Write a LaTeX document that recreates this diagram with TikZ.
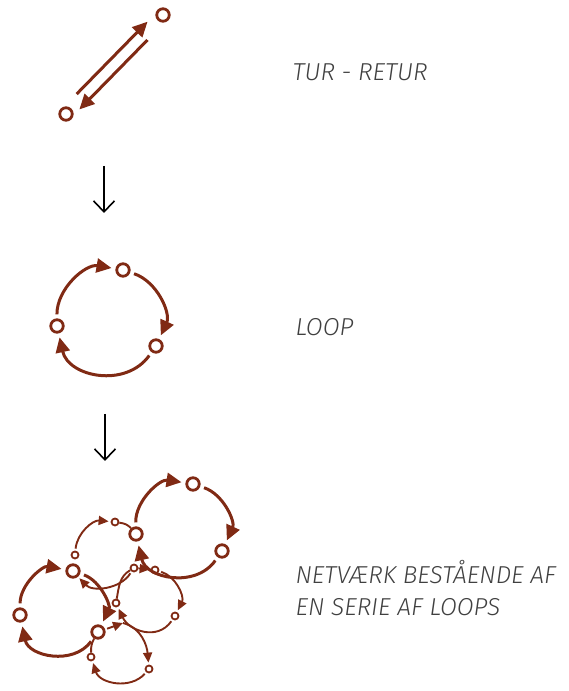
\documentclass[tikz,border=0pt]{standalone}
\usepackage{fontspec}
\newfontfamily\capfont{Fira Sans Light}[ItalicFont={Fira Sans Light Italic}]
\usetikzlibrary{arrows.meta}
\definecolor{rust}{RGB}{128,42,20}

\begin{document}
\begin{tikzpicture}[x=1pt, y=1pt,
    big/.style={circle, draw=rust, line width=2.8pt, minimum size=12.5pt, inner sep=0pt},
    small/.style={circle, draw=rust, line width=1.8pt, minimum size=7pt, inner sep=0pt},
    majorflow/.style={draw=rust, line width=3pt, -{Triangle[length=15pt,width=14pt]}, shorten <=4pt, shorten >=4pt},
    minorflow/.style={draw=rust, line width=1.9pt, -{Triangle[length=10pt,width=9pt]}, shorten <=2pt, shorten >=2pt},
    minorline/.style={draw=rust, line width=1.9pt},
    godown/.style={line width=1.6pt, -{Straight Barb[length=11pt,width=21pt]}},
    caption/.style={anchor=west, align=left, text=black!75, font=\capfont\itshape\fontsize{24.5}{32}\selectfont}]
    \useasboundingbox (0,0) rectangle (569,691);

    % tur - retur
    \node[big] (tura) at (66,577) {};
    \node[big] (turb) at (163,676) {};
    \draw[majorflow, shorten <=14pt, shorten >=8pt, transform canvas={shift={(-4.5pt,4.5pt)}}] (tura) -- (turb);
    \draw[majorflow, shorten <=21pt, shorten >=5pt, transform canvas={shift={(4.5pt,-4.5pt)}}] (turb) -- (tura);
    \node[caption] (turtext) at (289,619) {TUR - RETUR};

    \coordinate (down1a) at (104,525);
    \coordinate (down1b) at (104,478);
    \draw[godown] (down1a) -- (down1b);

    % loop
    \node[big] (lpa) at (123,421) {};
    \node[big] (lpb) at (156,345) {};
    \node[big] (lpc) at (57,365) {};
    \draw[majorflow] (lpc) to[bend left=50] (lpa);
    \draw[majorflow] (lpa) to[bend left=48] (lpb);
    \draw[majorflow] (lpb) to[bend left=66, looseness=1.2] (lpc);
    \node[caption] (looptext) at (292,364) {LOOP};

    \coordinate (down2a) at (105,277);
    \coordinate (down2b) at (105,230);
    \draw[godown] (down2a) -- (down2b);

    % netvaerk
    \node[big] (A1) at (193,207) {};
    \node[big] (A2) at (222,140) {};
    \node[big] (A3) at (136,157) {};
    \node[big] (B1) at (73,120) {};
    \node[big] (B2) at (20,76) {};
    \node[big] (B3) at (98,59) {};
    \node[small] (C1) at (115,169) {};
    \node[small] (C2) at (75,136) {};
    \node[small] (D1) at (134,123) {};
    \node[small] (D2) at (155,121) {};
    \node[small] (D3) at (116,88) {};
    \node[small] (D4) at (175,75) {};
    \node[small] (E1) at (91,34) {};
    \node[small] (E2) at (149,22) {};
    \coordinate (X) at (123,68);

    \draw[majorflow] (A3) to[bend left=50] (A1);
    \draw[majorflow] (A1) to[bend left=48] (A2);
    \draw[majorflow] (A2) to[bend left=66, looseness=1.2] (A3);
    \draw[majorflow] (B2) to[bend left=50] (B1);
    \draw[majorflow] (B1) to[bend left=48] (B3);
    \draw[majorflow] (B3) to[bend left=66, looseness=1.2] (B2);

    \draw[minorflow] (C2) to[bend left=45] (C1);
    \draw[minorline] (C1) to[bend left=20] (A3);
    \draw[minorflow] (D1) to[bend left=52] (B1);
    \draw[minorline] (D3) to[out=80, in=210] (D1);
    \draw[minorflow, shorten <=0pt, shorten >=1pt] (D1) -- (D2);
    \draw[minorflow] (D2) to[bend left=50] (D4);
    \draw[minorflow] (D4) to[out=235, in=-65, looseness=1.2] (D3);
    \draw[minorline] (E1) to[bend left=15] (B3);
    \draw[minorflow, shorten >=0pt] (B3) -- (X);
    \draw[minorflow, shorten <=0pt] (X) to[out=-15, in=95] (E2);
    \draw[minorflow] (E2) to[bend left=60, looseness=1.1] (E1);
    \node[caption] (nettext) at (292,103) {NETVÆRK BESTÅENDE AF\\EN SERIE AF LOOPS};
\end{tikzpicture}
\end{document}
